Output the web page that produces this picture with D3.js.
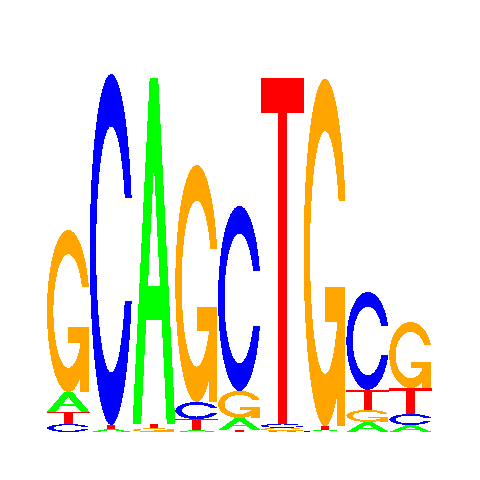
<!DOCTYPE html>
<html>
<head>
<meta charset="utf-8">
<script src="https://cdn.jsdelivr.net/npm/d3@7"></script>
<style>
  html, body { margin: 0; padding: 0; background: #fff; }
</style>
</head>
<body>
<div id="logo"></div>
<script>
// motif positions and per-base heights (bits)
const positions = [1, 2, 3, 4, 5, 6, 7, 8, 9];
const bases = ["A", "C", "G", "T"];
const heightA = [0.111, 0.017, 1.922, 0.011, 0.067, 0.006, 0.006, 0.056, 0.039];
const heightC = [0.044, 1.950, 0.000, 0.094, 1.028, 0.022, 0.005, 0.544, 0.061];
const heightG = [0.900, 0.000, 0.021, 1.317, 0.150, 0.017, 1.928, 0.067, 0.367];
const heightT = [0.067, 0.022, 0.023, 0.061, 0.011, 1.922, 0.022, 0.111, 0.144];
const baseColors = ["#00ff00", "#0000ff", "#ffa500", "#ff0000"];

const heights = { A: heightA, C: heightC, G: heightG, T: heightT };
const color = d3.scaleOrdinal().domain(bases).range(baseColors);

const svg = d3.select("#logo").append("svg")
  .attr("width", 480)
  .attr("height", 480);

const x = d3.scaleBand().domain(positions).range([47, 432]).padding(0);
const y = d3.scaleLinear().domain([0, 2]).range([432, 72]);

// letter outlines in a unit box (x right, y up), as polygons
function arcPts(from, to, r) {
  return d3.range(100).map(i => {
    const a = from + i * (to - from) / 99;
    return [0.5 + r * Math.sin(a), 0.5 + r * Math.cos(a)];
  });
}

function shapeC() {
  const a1s = 0.3 + Math.PI / 2;
  const l1 = arcPts(a1s, Math.PI, 0.5);
  const l2 = arcPts(Math.PI, 1.5 * Math.PI, 0.5);
  const l = l1.concat(l2);
  const outer = l.concat(l.slice().reverse().map(p => [p[0], 1 - p[1]]));
  const h = d3.max(l1, p => p[1]);
  const i1 = arcPts(a1s, Math.PI, 0.35).filter(p => p[1] <= h);
  i1[0] = [i1[0][0], h];
  const inn = i1.concat(arcPts(Math.PI, 1.5 * Math.PI, 0.35));
  const inner = inn.concat(inn.slice().reverse().map(p => [p[0], 1 - p[1]]));
  return { ring: outer.concat(inner.reverse()), r1: d3.max(l1, p => p[0]) };
}

const cShape = shapeC();
const r1 = cShape.r1;
// each piece: [points, isHole]
const shapes = {
  A: [
    [[[0, 0], [0.4, 1], [0.6, 1], [1, 0], [0.8, 0], [0.68, 0.3], [0.32, 0.3], [0.2, 0], [0, 0]], false],
    [[[0.36, 0.4], [0.5, 0.75], [0.64, 0.4], [0.36, 0.4]], true]
  ],
  C: [[cShape.ring, false]],
  G: [
    [cShape.ring, false],
    [[[r1, 0.4], [0.5, 0.4], [0.5, 0.3], [r1 - 0.2, 0.3], [r1 - 0.2, 0], [r1, 0], [r1, 0.4]], false]
  ],
  T: [
    [[[0, 1], [1, 1], [1, 0.9], [0.6, 0.9], [0.6, 0], [0.4, 0], [0.4, 0.9], [0, 0.9]], false]
  ]
};

// stack each column, smallest at the bottom
const glyphs = [];
positions.forEach((p, i) => {
  const col = bases.map(b => ({ base: b, h: heights[b][i] }))
    .filter(d => d.h > 0)
    .sort((a, b) => a.h - b.h);
  let acc = 0;
  col.forEach(d => {
    glyphs.push({ pos: p, base: d.base, y0: acc, y1: acc + d.h });
    acc += d.h;
  });
});

const letters = svg.append("g").selectAll("g")
  .data(glyphs)
  .enter().append("g");

letters.each(function(d) {
  const sx = d3.scaleLinear().domain([0, 1]).range([x(d.pos), x(d.pos) + x.bandwidth()]);
  const sy = d3.scaleLinear().domain([0, 1]).range([y(d.y0), y(d.y1)]);
  const line = d3.line().x(p => sx(p[0])).y(p => sy(p[1]));
  d3.select(this).selectAll("path")
    .data(shapes[d.base])
    .enter().append("path")
    .attr("shape-rendering", "crispEdges")
    .attr("fill", s => s[1] ? "#ffffff" : color(d.base))
    .attr("d", s => line(s[0]) + "Z");
});
</script>
</body>
</html>
